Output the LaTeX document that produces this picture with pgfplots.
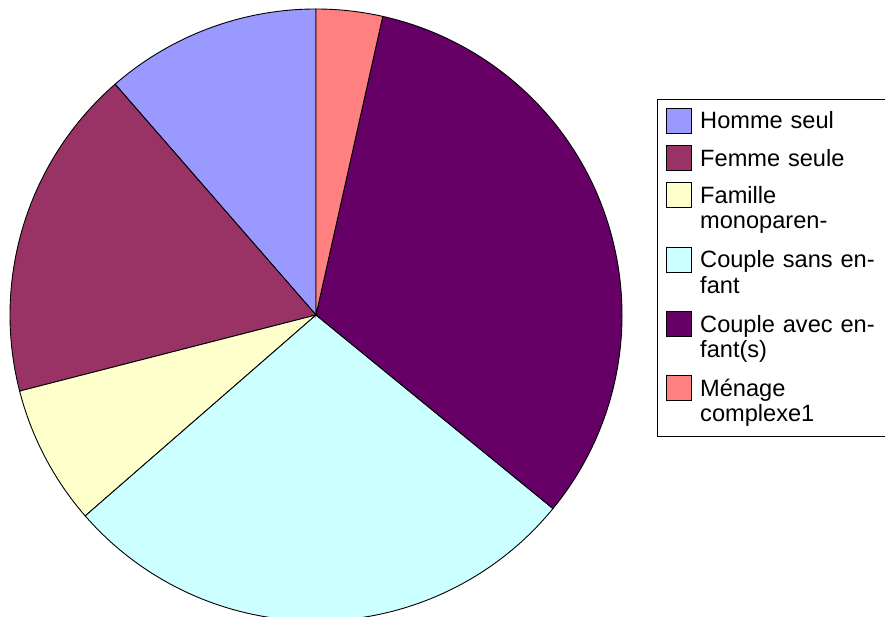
\documentclass[border=0pt]{standalone}
\usepackage{fontspec}
\setmainfont{Liberation Sans}
\usepackage{pgfplots}
\usepackage{pgfplotstable}
\pgfplotsset{compat=1.18}

\definecolor{cHomme}{HTML}{9999FF}
\definecolor{cFemme}{HTML}{993366}
\definecolor{cFamille}{HTML}{FFFFCC}
\definecolor{cCoupleS}{HTML}{CCFFFF}
\definecolor{cCoupleA}{HTML}{660066}
\definecolor{cMenage}{HTML}{FF8080}

\pgfplotstableread{
label value color
Homme 11.4 cHomme
Femme 17.6 cFemme
Famille 7.4 cFamille
CoupleSans 27.7 cCoupleS
CoupleAvec 32.4 cCoupleA
Menage 3.5 cMenage
}\piedata

\begin{document}
\begin{tikzpicture}[x=1pt,y=1pt]
\useasboundingbox (0,0) rectangle (885,617);
\begin{axis}[
  at={(316pt,302pt)}, anchor=center,
  scale only axis, width=612pt, height=612pt,
  xmin=-1, xmax=1, ymin=-1, ymax=1,
  hide axis, clip=false,
  legend image code/.code={\draw[#1, draw=black, line width=0.8pt] (0pt,-4.3pt) rectangle (25.4pt,20.7pt);},
  legend cell align=left,
  legend style={
    at={(1.05719,0.85294)}, anchor=north west,
    draw=black, line width=0.8pt,
    inner xsep=8.3pt, inner ysep=8.2pt,
    row sep=11.6pt, column sep=8.3pt,
    cells={anchor=base west},
    nodes={inner sep=0pt, text width=190pt, align=left,
      font=\fontsize{23.6}{25.4}\selectfont,
      text height=17pt, text depth=4.3pt},
  },
]
\def\startangle{90}
\pgfplotsforeachungrouped \i in {0,...,5}{%
  \pgfplotstablegetelem{\i}{value}\of\piedata \let\val\pgfplotsretval
  \pgfplotstablegetelem{\i}{color}\of\piedata \let\col\pgfplotsretval
  \pgfmathsetmacro\endangle{\startangle+3.6*\val}%
  \edef\temp{\noexpand\filldraw[fill=\col, draw=black, line width=0.9pt] (axis cs:0,0) -- ++(\startangle:306pt) arc[start angle=\startangle, end angle=\endangle, radius=306pt] -- cycle;}%
  \temp
  \global\let\startangle\endangle
}
\addlegendimage{fill=cHomme}
\addlegendentry{Homme seul}
\addlegendimage{fill=cFemme}
\addlegendentry{Femme seule}
\addlegendimage{fill=cFamille}
\addlegendentry[text depth=31.6pt]{Famille\\monoparen-}
\addlegendimage{fill=cCoupleS}
\addlegendentry[text depth=31.6pt]{Couple sans en-\\fant}
\addlegendimage{fill=cCoupleA}
\addlegendentry[text depth=31.6pt]{Couple avec en-\\fant(s)}
\addlegendimage{fill=cMenage}
\addlegendentry[text depth=31.6pt]{Ménage\\complexe1}
\end{axis}
\end{tikzpicture}
\end{document}
